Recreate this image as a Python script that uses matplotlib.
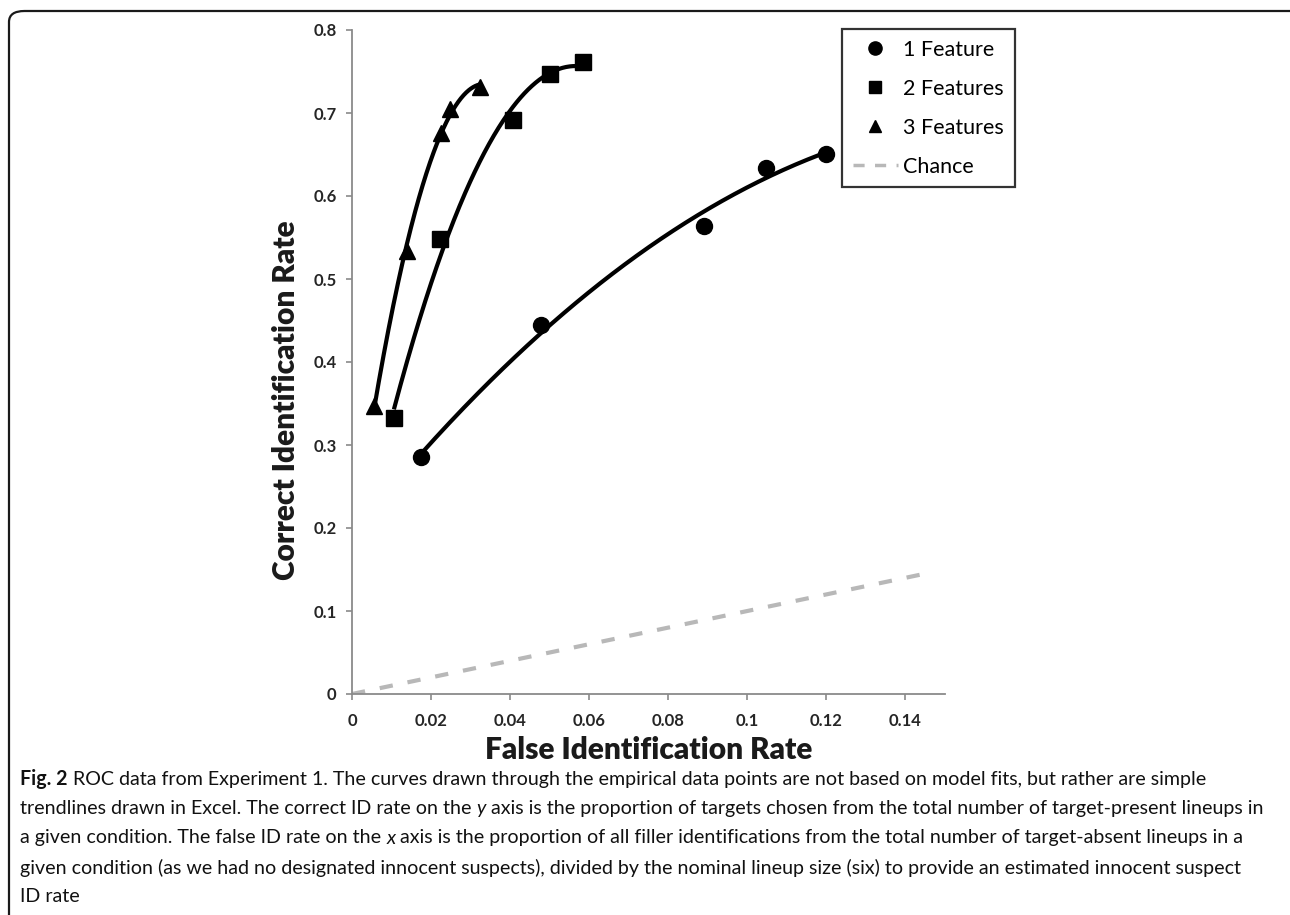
import matplotlib
matplotlib.use('Agg')
import matplotlib.pyplot as plt
import numpy as np
from matplotlib.patches import FancyBboxPatch
from matplotlib.lines import Line2D

# ROC points
one_x = [0.0175, 0.0479, 0.0890, 0.1046, 0.1199]
one_y = [0.286, 0.445, 0.564, 0.634, 0.651]
two_x = [0.0106, 0.0223, 0.0408, 0.0502, 0.0585]
two_y = [0.333, 0.548, 0.692, 0.747, 0.762]
three_x = [0.0056, 0.0139, 0.0225, 0.0248, 0.0324]
three_y = [0.347, 0.534, 0.676, 0.705, 0.731]
chance_x = [0.0, 0.147]
chance_y = [0.0, 0.147]

series_labels = ['1 Feature', '2 Features', '3 Features', 'Chance']
x_ticks = [0, 0.02, 0.04, 0.06, 0.08, 0.1, 0.12, 0.14]
x_ticklabels = ['0', '0.02', '0.04', '0.06', '0.08', '0.1', '0.12', '0.14']
y_ticks = [0, 0.1, 0.2, 0.3, 0.4, 0.5, 0.6, 0.7, 0.8]
y_ticklabels = ['0', '0.1', '0.2', '0.3', '0.4', '0.5', '0.6', '0.7', '0.8']

caption = [
    [('Fig. 2', 'bold'), (' ROC data from Experiment 1. The curves drawn through the empirical data points are not based on model fits, but rather are simple', 'normal')],
    [('trendlines drawn in Excel. The correct ID rate on the ', 'normal'), ('y', 'italic'), (' axis is the proportion of targets chosen from the total number of target-present lineups in', 'normal')],
    [('a given condition. The false ID rate on the ', 'normal'), ('x', 'italic'), (' axis is the proportion of all filler identifications from the total number of target-absent lineups in a', 'normal')],
    [('given condition (as we had no designated innocent suspects), divided by the nominal lineup size (six) to provide an estimated innocent suspect', 'normal')],
    [('ID rate', 'normal')],
]

W, H = 1290, 915
fig = plt.figure(figsize=(W / 100, H / 100), dpi=100)

# rounded frame around the whole figure (cut at right and bottom)
frame = FancyBboxPatch((9 / W, -0.2), 1.05, 1.2 - 11 / H, boxstyle='round,pad=0,rounding_size=0.012',
                       transform=fig.transFigure, fill=False, lw=1.6, ec='#1a1a1a')
fig.patches.append(frame)

ax = fig.add_axes([352 / W, 1 - 694 / H, (945 - 352) / W, (694 - 30) / H])

chart_font = ['Lato', 'DejaVu Sans']


def trend(xs, ys):
    # Excel-style 2nd order polynomial trendline
    c = np.polyfit(xs, ys, 2)
    xx = np.linspace(min(xs), max(xs), 200)
    return xx, np.polyval(c, xx)


for xs, ys, m, ms in [(one_x, one_y, 'o', 11.5), (two_x, two_y, 's', 11.5), (three_x, three_y, '^', 11)]:
    tx, ty = trend(xs, ys)
    ax.plot(tx, ty, color='black', lw=3, solid_capstyle='butt', zorder=3)
    ax.plot(xs, ys, m, color='black', ms=ms, zorder=4)

ch, = ax.plot(chance_x, chance_y, color='#b8b8b8', lw=3)
ch.set_dashes([3.2, 3.6])

ax.set_xlim(0, 0.15)
ax.set_ylim(0, 0.8)
ax.set_xticks(x_ticks)
ax.set_xticklabels(x_ticklabels)
ax.set_yticks(y_ticks)
ax.set_yticklabels(y_ticklabels)
for s in ['top', 'right']:
    ax.spines[s].set_visible(False)
for s in ['left', 'bottom']:
    ax.spines[s].set_color('#8a8a8a')
    ax.spines[s].set_linewidth(1.3)
ax.tick_params(direction='out', length=4, width=1.2, color='#8a8a8a', labelcolor='#262626',
               labelsize=12, pad=7)
ax.tick_params(axis='x', pad=10)
for lab in ax.get_xticklabels() + ax.get_yticklabels():
    lab.set_family(chart_font)
    lab.set_fontweight('bold')

ax.set_xlabel('False Identification Rate', family=chart_font, fontweight='heavy', fontsize=21.5,
              color='#1a1a1a')
ax.set_ylabel('Correct Identification Rate', family=chart_font, fontweight='heavy', fontsize=21.5,
              color='#1a1a1a')
ax.xaxis.set_label_coords(0.5, (694 - 736) / 664)
ax.yaxis.set_label_coords((300 - 352) / 593, (694 - 400) / 664)

handles = [
    Line2D([], [], ls='none', marker='o', color='black', ms=9.5),
    Line2D([], [], ls='none', marker='s', color='black', ms=9),
    Line2D([], [], ls='none', marker='^', color='black', ms=8.5),
    Line2D([], [], color='#b8b8b8', lw=2.5, dashes=[3.2, 3.0]),
]
leg = fig.legend(handles, series_labels, loc='upper left', bbox_to_anchor=(842 / W, 1 - 29 / H),
                 frameon=True, fancybox=False, edgecolor='black', handlelength=2.1,
                 prop={'family': chart_font, 'size': 15.5}, labelspacing=0.88, borderpad=0.5,
                 handletextpad=0.25, borderaxespad=0)
leg.get_frame().set_linewidth(1.6)

# caption, drawn segment by segment so bold/italic parts sit inline
cap_font = ['Lato', 'DejaVu Sans']
renderer = fig.canvas.get_renderer()
probe = fig.text(0, 0, ''.join(t for t, _ in caption[0]), family=cap_font, fontsize=14)
cap_size = 14 * (1207 - 20) / probe.get_window_extent(renderer).width
probe.remove()
y0 = 779
for i, line in enumerate(caption):
    x = 20
    y = 1 - (y0 + i * 29.5) / H
    for txt, style in line:
        t = fig.text(x / W, y, txt, family=cap_font, fontsize=cap_size, va='center', ha='left',
                     color='#111111',
                     fontweight='bold' if style == 'bold' else 'normal',
                     fontstyle='italic' if style == 'italic' else 'normal')
        x += t.get_window_extent(renderer).width

fig.savefig('out.png', dpi=100)
